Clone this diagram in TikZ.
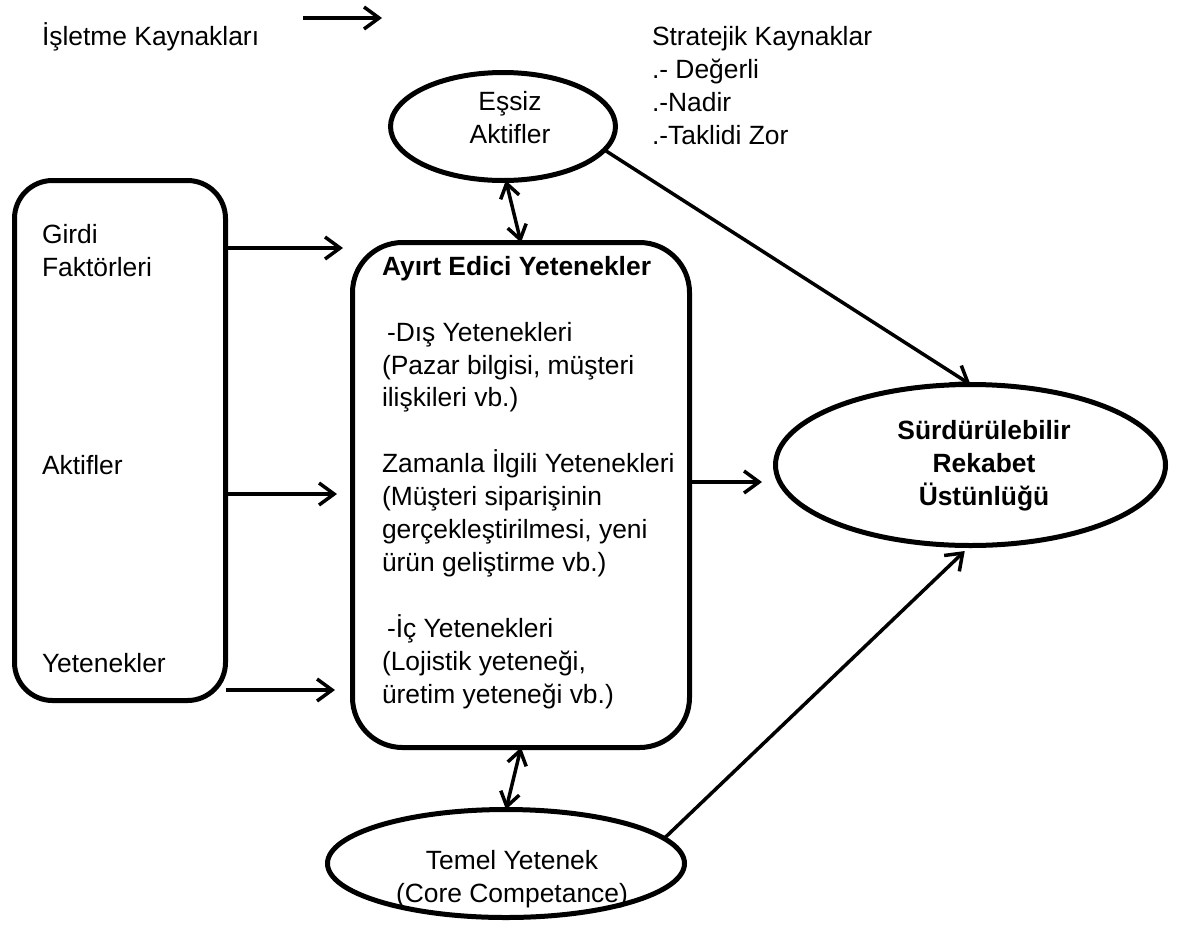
\documentclass[tikz,border=0pt]{standalone}
\usepackage{fontspec}
\setmainfont{Liberation Sans}
\usetikzlibrary{arrows.meta,shapes.geometric}

\begin{document}
\begin{tikzpicture}[x=1pt,y=-1pt,
  every node/.style={inner sep=0pt, outer sep=0pt, font=\fontsize{26.4}{32.9}\selectfont},
  frame/.style={draw, line width=5pt, rounded corners=38pt},
  oval/.style={draw, ellipse, line width=5pt},
  % multi-line texts are placed by the baseline of their last line
  txt/.style={align=left, anchor=base west},
  ctxt/.style={align=center, anchor=base},
  arr/.style={line width=3.5pt, -{Straight Barb[length=15pt,width=22pt]}},
  darr/.style={line width=3.5pt,
    {Straight Barb[length=14pt,width=19pt]}-{Straight Barb[length=14pt,width=19pt]}}]

\useasboundingbox (0,0) rectangle (1178,927);

% legend
\node[txt] (legend) at (42,45) {İşletme Kaynakları};
\coordinate (legA) at (303,18);
\coordinate (legB) at (382,18);
\draw[arr] (legA) -- (legB);

\node[txt] (strat) at (652,144) {Stratejik Kaynaklar\\.- Değerli\\.-Nadir\\.-Taklidi Zor};

% resource box on the left
\node[frame, minimum width=211pt, minimum height=520pt] (L) at (120,440.5) {};
\node[txt] (girdi) at (42,276) {Girdi\\Faktörleri};
\node[txt] (aktif) at (42,474) {Aktifler};
\node[txt] (yet) at (42,672) {Yetenekler};

% distinctive capabilities box
\node[frame, rounded corners=50pt, minimum width=337pt, minimum height=505pt] (M) at (521,495) {};
\node[txt] (Mtxt) at (382,703) {\textbf{Ayırt Edici Yetenekler}\\[32.9pt]
\hspace*{5pt}-Dış Yetenekleri\\
(Pazar bilgisi, müşteri\\
ilişkileri vb.)\\[32.9pt]
Zamanla İlgili Yetenekleri\\
(Müşteri siparişinin\\
gerçekleştirilmesi, yeni\\
ürün geliştirme vb.)\\[32.9pt]
\hspace*{5pt}-İç Yetenekleri\\
(Lojistik yeteneği,\\
üretim yeteneği vb.)};

% ellipses
\node[oval, minimum width=225pt, minimum height=108pt] (E) at (503,126.5) {};
\node[ctxt] (Etxt) at (510,143) {Eşsiz\\Aktifler};

\node[oval, minimum width=357pt, minimum height=108pt] (T) at (506,863.5) {};
\node[ctxt] (Ttxt) at (512,902) {Temel Yetenek\\(Core Competance)};

\node[oval, minimum width=390pt, minimum height=161pt] (S) at (970.5,465) {};
\node[ctxt, font=\fontsize{26.4}{32.9}\selectfont\bfseries] (Stxt) at (984,505) {Sürdürülebilir\\Rekabet\\Üstünlüğü};

% connectors
\draw[arr, shorten >=9.5pt] (L.east |- 0,248) -- (M.west |- 0,248);
\draw[arr, shorten >=15.5pt] (L.east |- 0,494) -- (M.west |- 0,494);
\draw[arr, shorten >=17.5pt] (L.east |- 0,690) -- (M.west |- 0,690);

\draw[darr] (E.-87) -- (M.north);
\draw[darr] (M.south) -- (T.north);

\draw[arr] (E.-13) -- (S.north);
\draw[arr, shorten >=13.5pt] (M.east |- 0,482) -- (S.west |- 0,482);
\draw[arr, shorten >=8pt] (T.9) -- (S.south);
\end{tikzpicture}
\end{document}
